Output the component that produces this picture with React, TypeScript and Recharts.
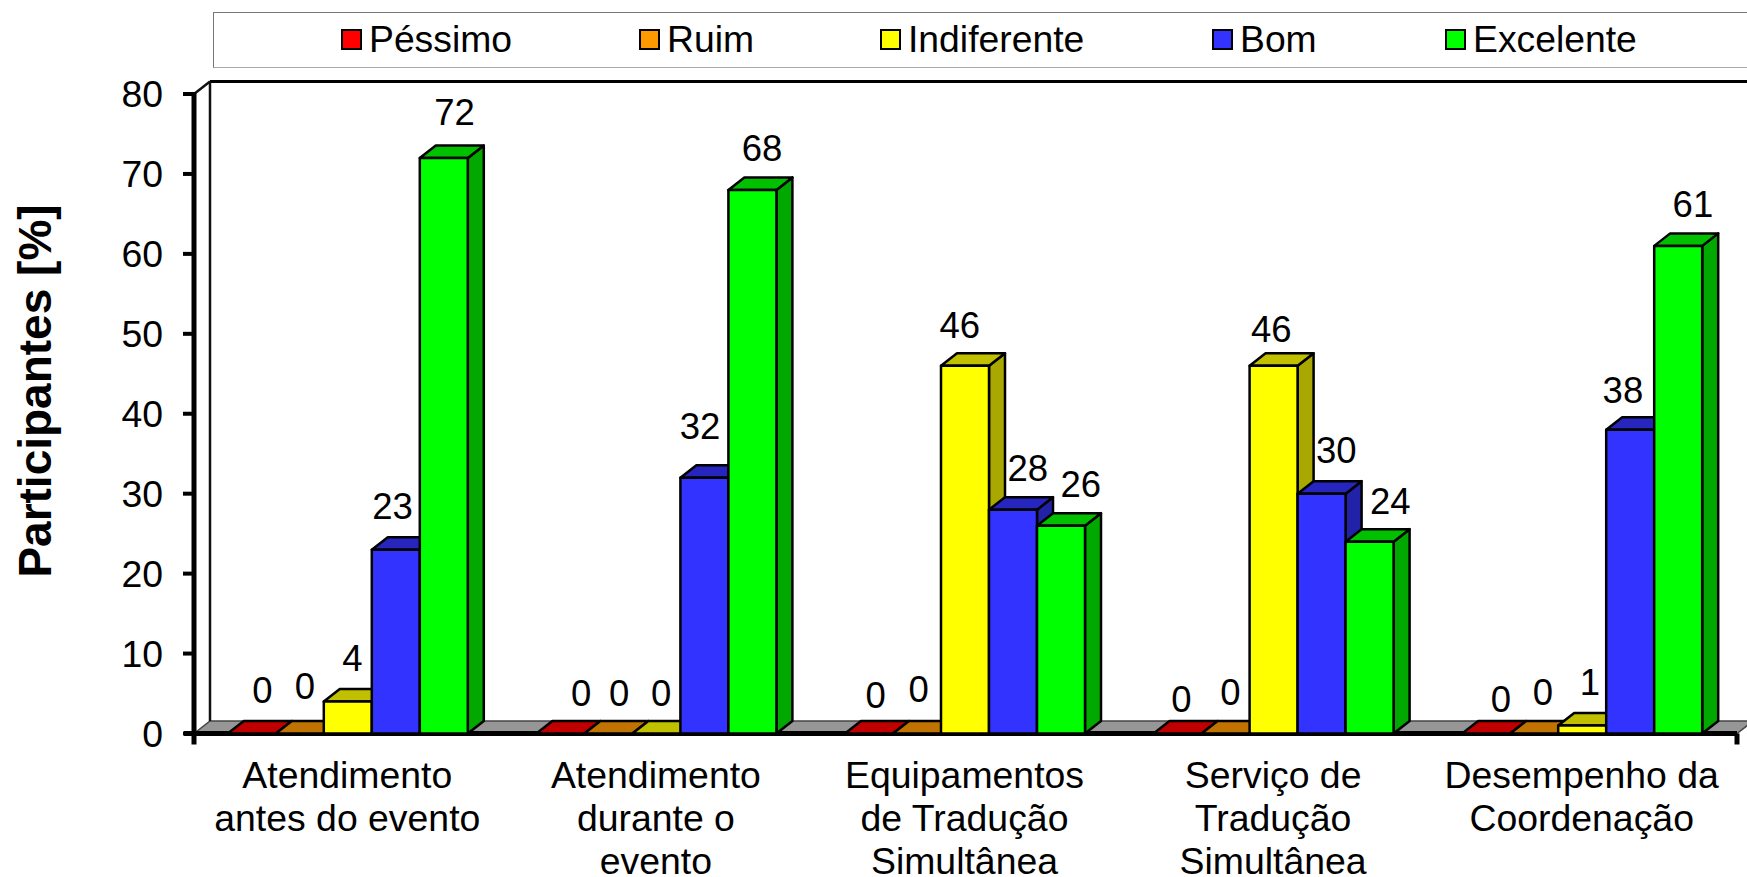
import React from "react";
import { BarChart, Bar, XAxis, YAxis, Legend, LabelList, usePlotArea } from "recharts";

const categories = [
  ["Atendimento", "antes do evento"],
  ["Atendimento", "durante o", "evento"],
  ["Equipamentos", "de Tradução", "Simultânea"],
  ["Serviço de", "Tradução", "Simultânea"],
  ["Desempenho da", "Coordenação"],
];
const pessimo = [0, 0, 0, 0, 0];
const ruim = [0, 0, 0, 0, 0];
const indiferente = [4, 0, 46, 46, 1];
const bom = [23, 32, 28, 30, 38];
const excelente = [72, 68, 26, 24, 61];
const yTicks = [0, 10, 20, 30, 40, 50, 60, 70, 80];

const seriesList = [
  { key: "Péssimo", values: pessimo, face: "#FF0000", top: "#C00000", side: "#A80000", legendX: 341, dx: [10, 20, 6, 3, 14], dy: [-43, -40, -38, -34, -34] },
  { key: "Ruim", values: ruim, face: "#FF9900", top: "#C07300", side: "#A86500", legendX: 639, dx: [4.5, 10, 1, 4, 8], dy: [-47, -40, -44, -41, -41] },
  { key: "Indiferente", values: indiferente, face: "#FFFF00", top: "#C0C000", side: "#A8A800", legendX: 880, dx: [4, 4, -6, -3, 7], dy: [-43, -40, -40, -36, -43] },
  { key: "Bom", values: bom, face: "#3333FF", top: "#2626BF", side: "#2222A8", legendX: 1212, dx: [-4, -5, 14, 14, -8], dy: [-43, -51, -41, -43, -39] },
  { key: "Excelente", values: excelente, face: "#00FF00", top: "#00C000", side: "#00A800", legendX: 1445, dx: [10, 9, 19, 20, 14], dy: [-44.5, -41, -41, -40, -41] },
];

const rows = categories.map((c, i) => {
  const row: Record<string, any> = { name: c.join(" "), lines: c };
  seriesList.forEach((s) => { row[s.key] = s.values[i]; });
  return row;
});

const FONT = "'Liberation Sans', Arial, sans-serif";
const DEPTH_X = 16;
const DEPTH_Y = 12.5;
const BAR_SHIFT = -1.2;

function Backdrop() {
  const plot = usePlotArea();
  if (!plot) return null;
  const { x, y, width, height } = plot;
  const r = x + width;
  const b = y + height;
  const backB = b - DEPTH_Y;
  const backX = x + DEPTH_X;
  const backT = y - DEPTH_Y;
  return (
    <g>
      <polygon points={`${x},${b} ${backX},${backB} ${r + DEPTH_X},${backB} ${r},${b}`} fill="#969696" stroke="#444" strokeWidth={1.5} />
      <line x1={backX} y1={backT} x2={1747} y2={backT} stroke="#000" strokeWidth={3} />
      <line x1={backX} y1={backT} x2={backX} y2={backB} stroke="#111" strokeWidth={2.5} />
      <line x1={x} y1={y} x2={backX} y2={backT} stroke="#111" strokeWidth={2.5} />
    </g>
  );
}

function AxisEnds() {
  const plot = usePlotArea();
  if (!plot) return null;
  const { x, y, width, height } = plot;
  const b = y + height;
  return (
    <g stroke="#000">
      <line x1={x} y1={y - 2} x2={x} y2={b + 11} strokeWidth={5} />
      <line x1={x - 10} y1={b} x2={x + width} y2={b} strokeWidth={5} />
      <line x1={x + width} y1={b} x2={x + width} y2={b + 11} strokeWidth={5} />
    </g>
  );
}

const Bar3D = (props: any, s: (typeof seriesList)[number]) => {
  const { y, width, height } = props;
  const x = props.x + BAR_SHIFT;
  const dx = DEPTH_X;
  const dy = DEPTH_Y;
  const stroke = { stroke: "#000", strokeWidth: 2.5, strokeLinejoin: "round" as const };
  return (
    <g>
      {height > 0 && (
        <polygon
          points={`${x + width},${y} ${x + width + dx},${y - dy} ${x + width + dx},${y + height - dy} ${x + width},${y + height}`}
          fill={s.side}
          {...stroke}
        />
      )}
      <polygon
        points={`${x},${y} ${x + dx},${y - dy} ${x + width + dx},${y - dy} ${x + width},${y}`}
        fill={s.top}
        {...stroke}
      />
      {height > 0 && <rect x={x} y={y} width={width} height={height} fill={s.face} {...stroke} />}
    </g>
  );
};

const LegendBox = () => (
  <div style={{ position: "relative", width: 1560, height: 56, border: "1px solid #777", borderBottomColor: "#aaa", boxSizing: "border-box", background: "#fff", fontFamily: FONT, fontSize: 37.3, color: "#000" }}>
    {seriesList.map((s) => (
      <React.Fragment key={s.key}>
        <span style={{ position: "absolute", left: s.legendX - 214, top: 16, width: 21, height: 21, boxSizing: "border-box", background: s.face, border: "2.5px solid #000" }} />
        <span style={{ position: "absolute", left: s.legendX - 214 + 28, top: 5, lineHeight: "43px", whiteSpace: "nowrap" }}>{s.key}</span>
      </React.Fragment>
    ))}
  </div>
);

const CategoryTick = (props: any) => {
  const { x, payload } = props;
  const lines = categories[payload.index] ?? [];
  return (
    <text x={x} textAnchor="middle" fontFamily={FONT} fontSize={37.4} fill="#000">
      {lines.map((l, i) => (
        <tspan key={i} x={x - 1} y={788 + 43 * i}>{l}</tspan>
      ))}
    </text>
  );
};

const ValueTick = (props: any) => {
  const { y, payload } = props;
  return (
    <text x={163} y={y + 13} textAnchor="end" fontFamily={FONT} fontSize={37.4} fill="#000">{payload.value}</text>
  );
};

const YTitle = () => (
  <text transform="translate(51 391) rotate(-90)" textAnchor="middle" fontFamily={FONT} fontSize={46} fontWeight={700} fill="#000">
    Participantes [%]
  </text>
);

export default function App() {
  return (
    <div style={{ position: "fixed", left: 0, top: 0, width: 1747, height: 877, background: "#fff", overflow: "hidden" }}>
      <BarChart
        width={1747}
        height={877}
        data={rows}
        margin={{ left: 0, right: 10, top: 94, bottom: 0 }}
        barCategoryGap={35}
        barGap={0}
      >
        <Backdrop />
        <XAxis dataKey="name" axisLine={false} tickLine={false} interval={0} tick={CategoryTick} height={143.5} />
        <YAxis
          domain={[0, 80]}
          ticks={yTicks}
          width={194}
          axisLine={false}
          tickSize={11}
          tickLine={{ stroke: "#000", strokeWidth: 4 }}
          tick={ValueTick}
          label={{ content: YTitle }}
        />
        <Legend layout="horizontal" verticalAlign="middle" align="center" content={LegendBox} wrapperStyle={{ left: 213, top: 12, width: 1560, height: 56 }} />
        {seriesList.map((s) => (
          <Bar key={s.key} dataKey={s.key} isAnimationActive={false} shape={(p: any) => Bar3D(p, s)}>
            <LabelList
              dataKey={s.key}
              content={(p: any) => (
                <text
                  x={p.x + p.width / 2 + s.dx[p.index] - 0.5}
                  y={p.y + s.dy[p.index] + 12}
                  textAnchor="middle"
                  fontFamily={FONT}
                  fontSize={36.5}
                  fill="#000"
                >
                  {p.value}
                </text>
              )}
            />
          </Bar>
        ))}
        <AxisEnds />
      </BarChart>
    </div>
  );
}
